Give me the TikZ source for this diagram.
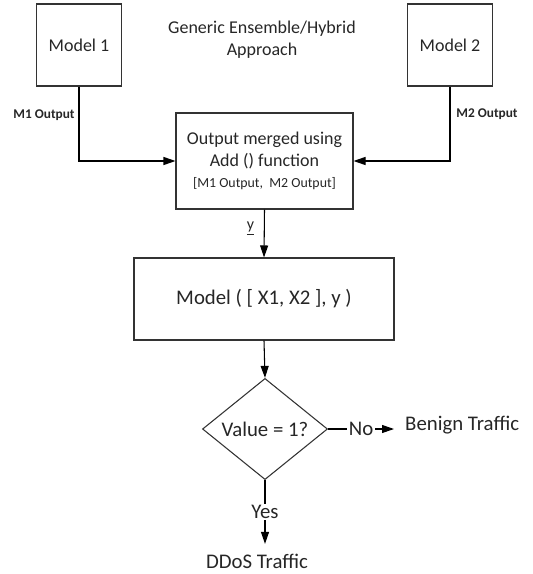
\documentclass[tikz,border=0pt]{standalone}
\usepackage{fontspec}
\setmainfont{Carlito}
\usetikzlibrary{shapes.geometric}
\usetikzlibrary{arrows.meta}

\begin{document}
\begin{tikzpicture}[x=0.75pt,y=-0.75pt,line width=0.8pt,
  >={Triangle[length=9pt,width=6pt]},
  every node/.style={text=black!85},
  box/.style={draw=black!80,rectangle,inner sep=0pt},
  decision/.style={draw=black!80,diamond,inner sep=0pt,minimum width=93.75pt,minimum height=69.75pt},
  midfont/.style={font=\fontsize{13.5}{16.5}\selectfont},
  bigfont/.style={font=\fontsize{15.6}{18}\selectfont}]

  \useasboundingbox (0,0) rectangle (532,574);

  \node[box,midfont,minimum width=63.75pt,minimum height=61.5pt] at (79,45) (m1) {Model 1};
  \node[box,midfont,minimum width=63.75pt,minimum height=61.5pt] at (450,45) (m2) {Model 2};
  \node[midfont,align=center] at (262,40) (title) {Generic Ensemble/Hybrid\\Approach};
  \node[font=\bfseries\fontsize{10}{12}\selectfont] at (44,115) (m1out) {M1 Output};
  \node[font=\bfseries\fontsize{10}{12}\selectfont] at (487,114) (m2out) {M2 Output};

  \node[box,midfont,align=center,minimum width=132.75pt,minimum height=72pt] at (264.5,161) (merge)
    {Output merged using\\Add () function\\[-1pt]{\fontsize{10.4}{13}\selectfont [M1 Output,~~M2 Output]}};
  \node[box,bigfont,minimum width=195pt,minimum height=61.5pt] at (264,299) (model) {Model ( [ X1, X2 ], y )};
  \node[decision,bigfont] at (265,429) (check) {Value = 1?};
  \node[bigfont,anchor=west,inner xsep=8pt] at (394,425) (benign) {Benign Traffic};
  \node[bigfont,inner ysep=7pt] at (257,561) (ddos) {DDoS Traffic};

  \draw [->] (m1.south) |- (merge.west);
  \draw [->] (m2.south) |- (merge.east);
  \draw [->] (merge.south) -- node[left,pos=0.4,xshift=-4pt,font=\fontsize{12}{14}\selectfont]{\underline{y}} (model.north);
  \draw [->] (model.south) -- (check.north);
  \draw [->] (check.east) -- node[bigfont,fill=white,inner sep=1pt]{No} (check.east -| benign.west);
  \draw [->] (check.south) -- node[bigfont,fill=white,inner sep=1pt]{Yes} (check.south |- ddos.north);

\end{tikzpicture}
\end{document}
